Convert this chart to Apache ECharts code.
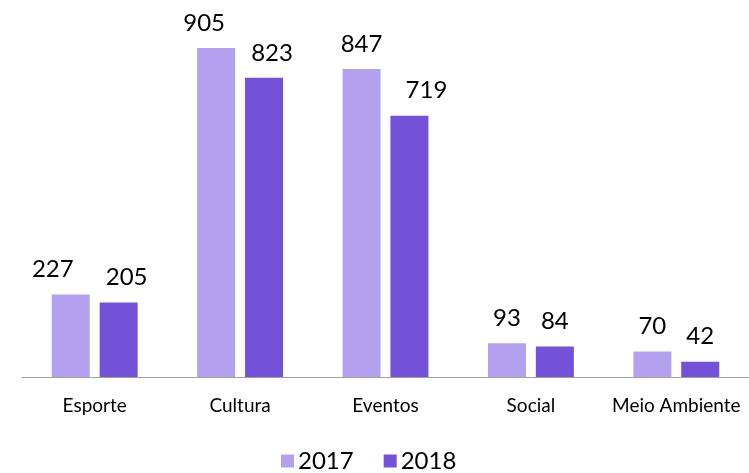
<!DOCTYPE html>
<html>
<head>
<meta charset="utf-8">
<script src="https://cdn.jsdelivr.net/npm/echarts@6/dist/echarts.min.js"></script>
<style>
  html, body { margin: 0; padding: 0; background: #fff; }
  #chart { width: 749px; height: 473px; }
</style>
</head>
<body>
<div id="chart"></div>
<script>
// Projetos por área, 2017 x 2018
const categories = ['Esporte', 'Cultura', 'Eventos', 'Social', 'Meio Ambiente'];
const seriesNames = ['2017', '2018'];
const values2017 = [227, 905, 847, 93, 70];
const values2018 = [205, 823, 719, 84, 42];

// horizontal nudges for the value labels (px), so neighbouring labels don't crowd
const labelShift2017 = [-18, -12, 0, 0, 0];
const labelShift2018 = [8, 8, 17, 0, 0];

const FONT = 'Lato, "Open Sans", sans-serif';
const colors = ['#b3a1ef', '#7351d9'];

function withLabels(values, shifts) {
  return values.map((v, i) => ({
    value: v,
    label: { offset: [shifts[i], 0] }
  }));
}

const chart = echarts.init(document.getElementById('chart'), null, { renderer: 'canvas' });
chart.setOption({
  animation: false,
  color: colors,
  grid: { left: 22, right: 0, top: 13.5, bottom: 96, containLabel: false },
  legend: {
    data: seriesNames,
    bottom: 0,
    left: 281,
    padding: 0,
    itemWidth: 13,
    itemHeight: 13,
    itemGap: 30,
    icon: 'rect',
    textStyle: { fontFamily: FONT, fontSize: 24, color: '#000', padding: [0, 0, 0, -1] }
  },
  xAxis: {
    type: 'category',
    data: categories,
    axisLine: { show: true, lineStyle: { color: '#a0a0a0', width: 1 } },
    axisTick: { show: false },
    axisLabel: { interval: 0, fontFamily: FONT, fontSize: 19, color: '#000', margin: 19 }
  },
  yAxis: {
    type: 'value',
    min: 0,
    max: 1000,
    show: false,
    splitLine: { show: false }
  },
  series: [
    {
      name: seriesNames[0],
      type: 'bar',
      barWidth: 38,
      barGap: '26%',
      data: withLabels(values2017, labelShift2017),
      label: { show: true, position: 'top', distance: 13, fontFamily: FONT, fontSize: 24, color: '#000' }
    },
    {
      name: seriesNames[1],
      type: 'bar',
      barWidth: 38,
      barGap: '26%',
      data: withLabels(values2018, labelShift2018),
      label: { show: true, position: 'top', distance: 13, fontFamily: FONT, fontSize: 24, color: '#000' }
    }
  ]
});
</script>
</body>
</html>
